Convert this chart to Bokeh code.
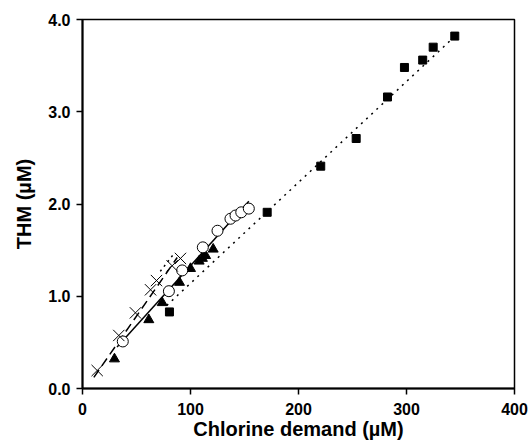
from bokeh.plotting import figure
from bokeh.models import Range1d, FixedTicker, NumeralTickFormatter
from bokeh.embed import file_html
from bokeh.resources import INLINE

# --- data ---
sq_x = [80.5, 171, 220.6, 253.4, 282.4, 298.1, 315, 324.7, 344.7]
sq_y = [0.83, 1.91, 2.41, 2.71, 3.16, 3.48, 3.56, 3.70, 3.82]
sq_fit_x = [78, 345]
sq_fit_y = [0.90, 3.82]

tri_x = [29.6, 61.4, 73.8, 89.8, 100, 108, 111, 114, 121]
tri_y = [0.32, 0.745, 0.93, 1.15, 1.30, 1.38, 1.41, 1.44, 1.51]

circ_x = [37.3, 80, 92.3, 111.4, 125, 137, 141.7, 147, 154]
circ_y = [0.51, 1.055, 1.28, 1.53, 1.71, 1.84, 1.875, 1.91, 1.95]
solid_fit_x = [32, 154]
solid_fit_y = [0.45, 2.03]

x_x = [13.6, 33.6, 49, 63, 68.5, 83, 90.7]
x_y = [0.195, 0.575, 0.82, 1.07, 1.17, 1.33, 1.41]
dash_fit_x = [10.5, 87.7]
dash_fit_y = [0.12, 1.42]

dot2_fit_x = [72, 84]
dot2_fit_y = [1.27, 1.45]

x_ticks = [0, 100, 200, 300, 400]
y_ticks = [0, 1, 2, 3, 4]

p = figure(width=528, height=443, output_backend="svg", toolbar_location=None,
           x_range=Range1d(0, 400), y_range=Range1d(0, 4),
           min_border_left=82, min_border_right=14, min_border_top=19, min_border_bottom=55)
p.background_fill_color = "white"
p.border_fill_color = "white"
p.outline_line_color = "black"
p.outline_line_width = 1.5
p.xgrid.visible = False
p.ygrid.visible = False

font = "Liberation Sans"
for ax in (p.xaxis[0], p.yaxis[0]):
    ax.axis_line_width = 2
    ax.axis_line_color = "black"
    ax.major_tick_line_width = 1.5
    ax.major_tick_out = 6
    ax.major_tick_in = 0
    ax.minor_tick_out = 0
    ax.minor_tick_in = 0
    ax.major_label_text_font = font
    ax.major_label_text_font_style = "bold"
    ax.major_label_text_font_size = "16px"
    ax.major_label_text_color = "black"
    ax.axis_label_text_font = font
    ax.axis_label_text_font_style = "bold"
    ax.axis_label_text_font_size = "20px"
    ax.axis_label_text_color = "black"

p.xaxis.ticker = FixedTicker(ticks=x_ticks)
p.yaxis.ticker = FixedTicker(ticks=y_ticks)
p.yaxis.formatter = NumeralTickFormatter(format="0.0")
p.xaxis.axis_label = "Chlorine demand (µM)"
p.yaxis.axis_label = "THM (µM)"
p.xaxis.major_label_standoff = 8
p.yaxis.major_label_standoff = 6
p.xaxis.axis_label_standoff = 0
p.yaxis.axis_label_standoff = 10

# fit lines
p.line(sq_fit_x, sq_fit_y, line_color="black", line_width=1.5, line_dash="2 5")
p.line(solid_fit_x, solid_fit_y, line_color="black", line_width=1.5)
p.line(dash_fit_x, dash_fit_y, line_color="black", line_width=1.5, line_dash="9 5")
p.line(dot2_fit_x, dot2_fit_y, line_color="black", line_width=1.5, line_dash="2 4")

# markers
p.scatter(sq_x, sq_y, marker="square", size=8, fill_color="black", line_color="black")
p.scatter(tri_x, tri_y, marker="triangle", size=10, fill_color="black", line_color="black")
p.scatter(circ_x, circ_y, marker="circle", size=11, fill_color="white", line_color="black", line_width=1)
p.scatter(x_x, x_y, marker="x", size=16, line_color="black", line_width=1)

open("out.html", "w").write(file_html(p, INLINE))
